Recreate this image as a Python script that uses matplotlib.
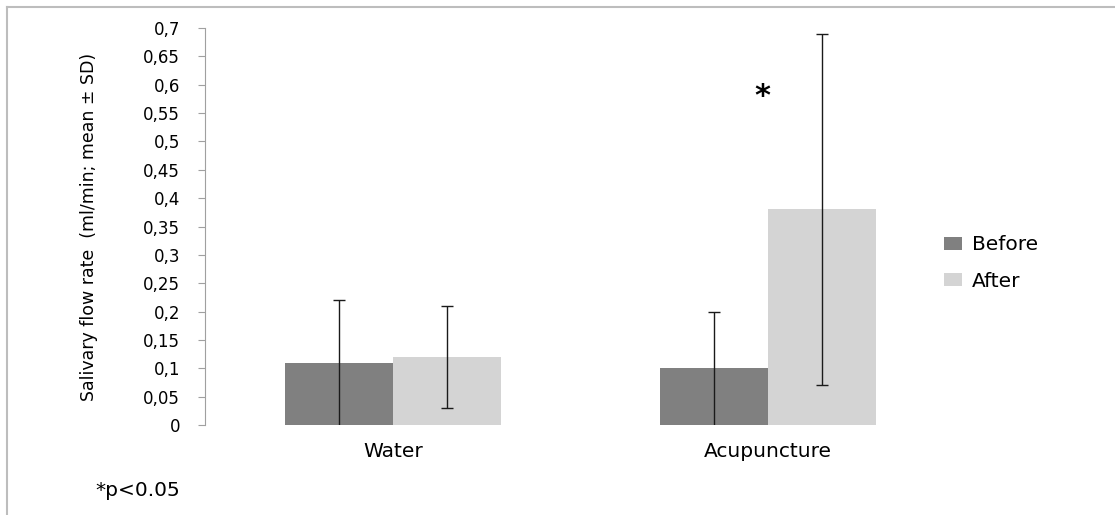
import matplotlib
matplotlib.use("Agg")
import matplotlib.pyplot as plt
from matplotlib.lines import Line2D
import numpy as np

categories = ["Water", "Acupuncture"]
series_names = ["Before", "After"]
before_mean = [0.11, 0.10]
before_sd = [0.11, 0.10]
after_mean = [0.12, 0.38]
after_sd = [0.09, 0.31]
ytick_values = [0, 0.05, 0.1, 0.15, 0.2, 0.25, 0.3, 0.35, 0.4, 0.45, 0.5, 0.55, 0.6, 0.65, 0.7]
ytick_labels = ["0", "0,05", "0,1", "0,15", "0,2", "0,25", "0,3", "0,35", "0,4", "0,45",
                "0,5", "0,55", "0,6", "0,65", "0,7"]

W, H = 1115, 515
fig = plt.figure(figsize=(W / 100, H / 100), dpi=100)
fig.patch.set_facecolor("white")
ax = fig.add_axes([205 / W, 1 - 425 / H, (956 - 205) / W, (425 - 28) / H])

x = np.arange(len(categories))
bw = 0.2876
c_before = "#808080"
c_after = "#d4d4d4"
b1 = ax.bar(x - bw / 2, before_mean, width=bw, color=c_before, label=series_names[0], zorder=2)
b2 = ax.bar(x + bw / 2, after_mean, width=bw, color=c_after, label=series_names[1], zorder=2)
for xs, m, sd in [(x - bw / 2, before_mean, before_sd), (x + bw / 2, after_mean, after_sd)]:
    eb = ax.errorbar(xs, m, yerr=sd, fmt="none", ecolor="#1a1a1a",
                     elinewidth=1.0, capsize=4, capthick=1.0, zorder=3)
    caps = eb.lines[1]
    low = np.array(m) - np.array(sd)
    keep = [i for i in range(len(low)) if low[i] > 1e-9]
    caps[0].set_markevery(keep if keep else [])
    if not keep:
        caps[0].set_visible(False)

ax.set_xlim(-0.5, 1.5)
ax.set_ylim(0, 0.7)
ax.set_yticks(ytick_values)
ax.set_yticklabels(ytick_labels, fontsize=12, family="DejaVu Sans")
ax.set_xticks(x)
ax.set_xticklabels(categories, fontsize=14.5, family="DejaVu Sans")
ax.tick_params(axis="x", length=0, pad=12)
ax.tick_params(axis="y", length=5, width=0.8, color="#a0a0a0", pad=13)
for s in ["top", "right", "bottom"]:
    ax.spines[s].set_visible(False)
ax.spines["left"].set_color("#a0a0a0")
ax.spines["left"].set_linewidth(0.8)
ax.set_facecolor("white")

ax.set_ylabel("Salivary flow rate  (ml/min; mean ± SD)", fontsize=12.5,
              family=["DejaVu Sans Condensed", "DejaVu Sans"])
ax.yaxis.set_label_coords(-0.142, 0.5)

ax.text(1 - 0.016, 0.58, "*", fontsize=22, fontweight="bold", ha="center", va="center")

leg = ax.legend(handles=[b1, b2], labels=series_names, loc="center left",
                bbox_to_anchor=(944 / W, 1 - 263 / H), bbox_transform=fig.transFigure,
                frameon=False, fontsize=14.5, handlelength=0.87, handleheight=0.58,
                handletextpad=0.5, labelspacing=0.85, borderpad=0, borderaxespad=0)
for t in leg.get_texts():
    t.set_family("DejaVu Sans")

fig.text(95 / W, 1 - 490 / H, "*p<0.05", fontsize=14.5, family="DejaVu Sans",
         ha="left", va="center")

# chart-area border (top and left edges visible)
fig.add_artist(Line2D([7 / W, 1], [1 - 6.5 / H, 1 - 6.5 / H], transform=fig.transFigure,
                      color="#bdbdbd", linewidth=1.5))
fig.add_artist(Line2D([7 / W, 7 / W], [0, 1 - 6.5 / H], transform=fig.transFigure,
                      color="#bdbdbd", linewidth=1.5))

fig.savefig("out.png", dpi=100, facecolor="white")
